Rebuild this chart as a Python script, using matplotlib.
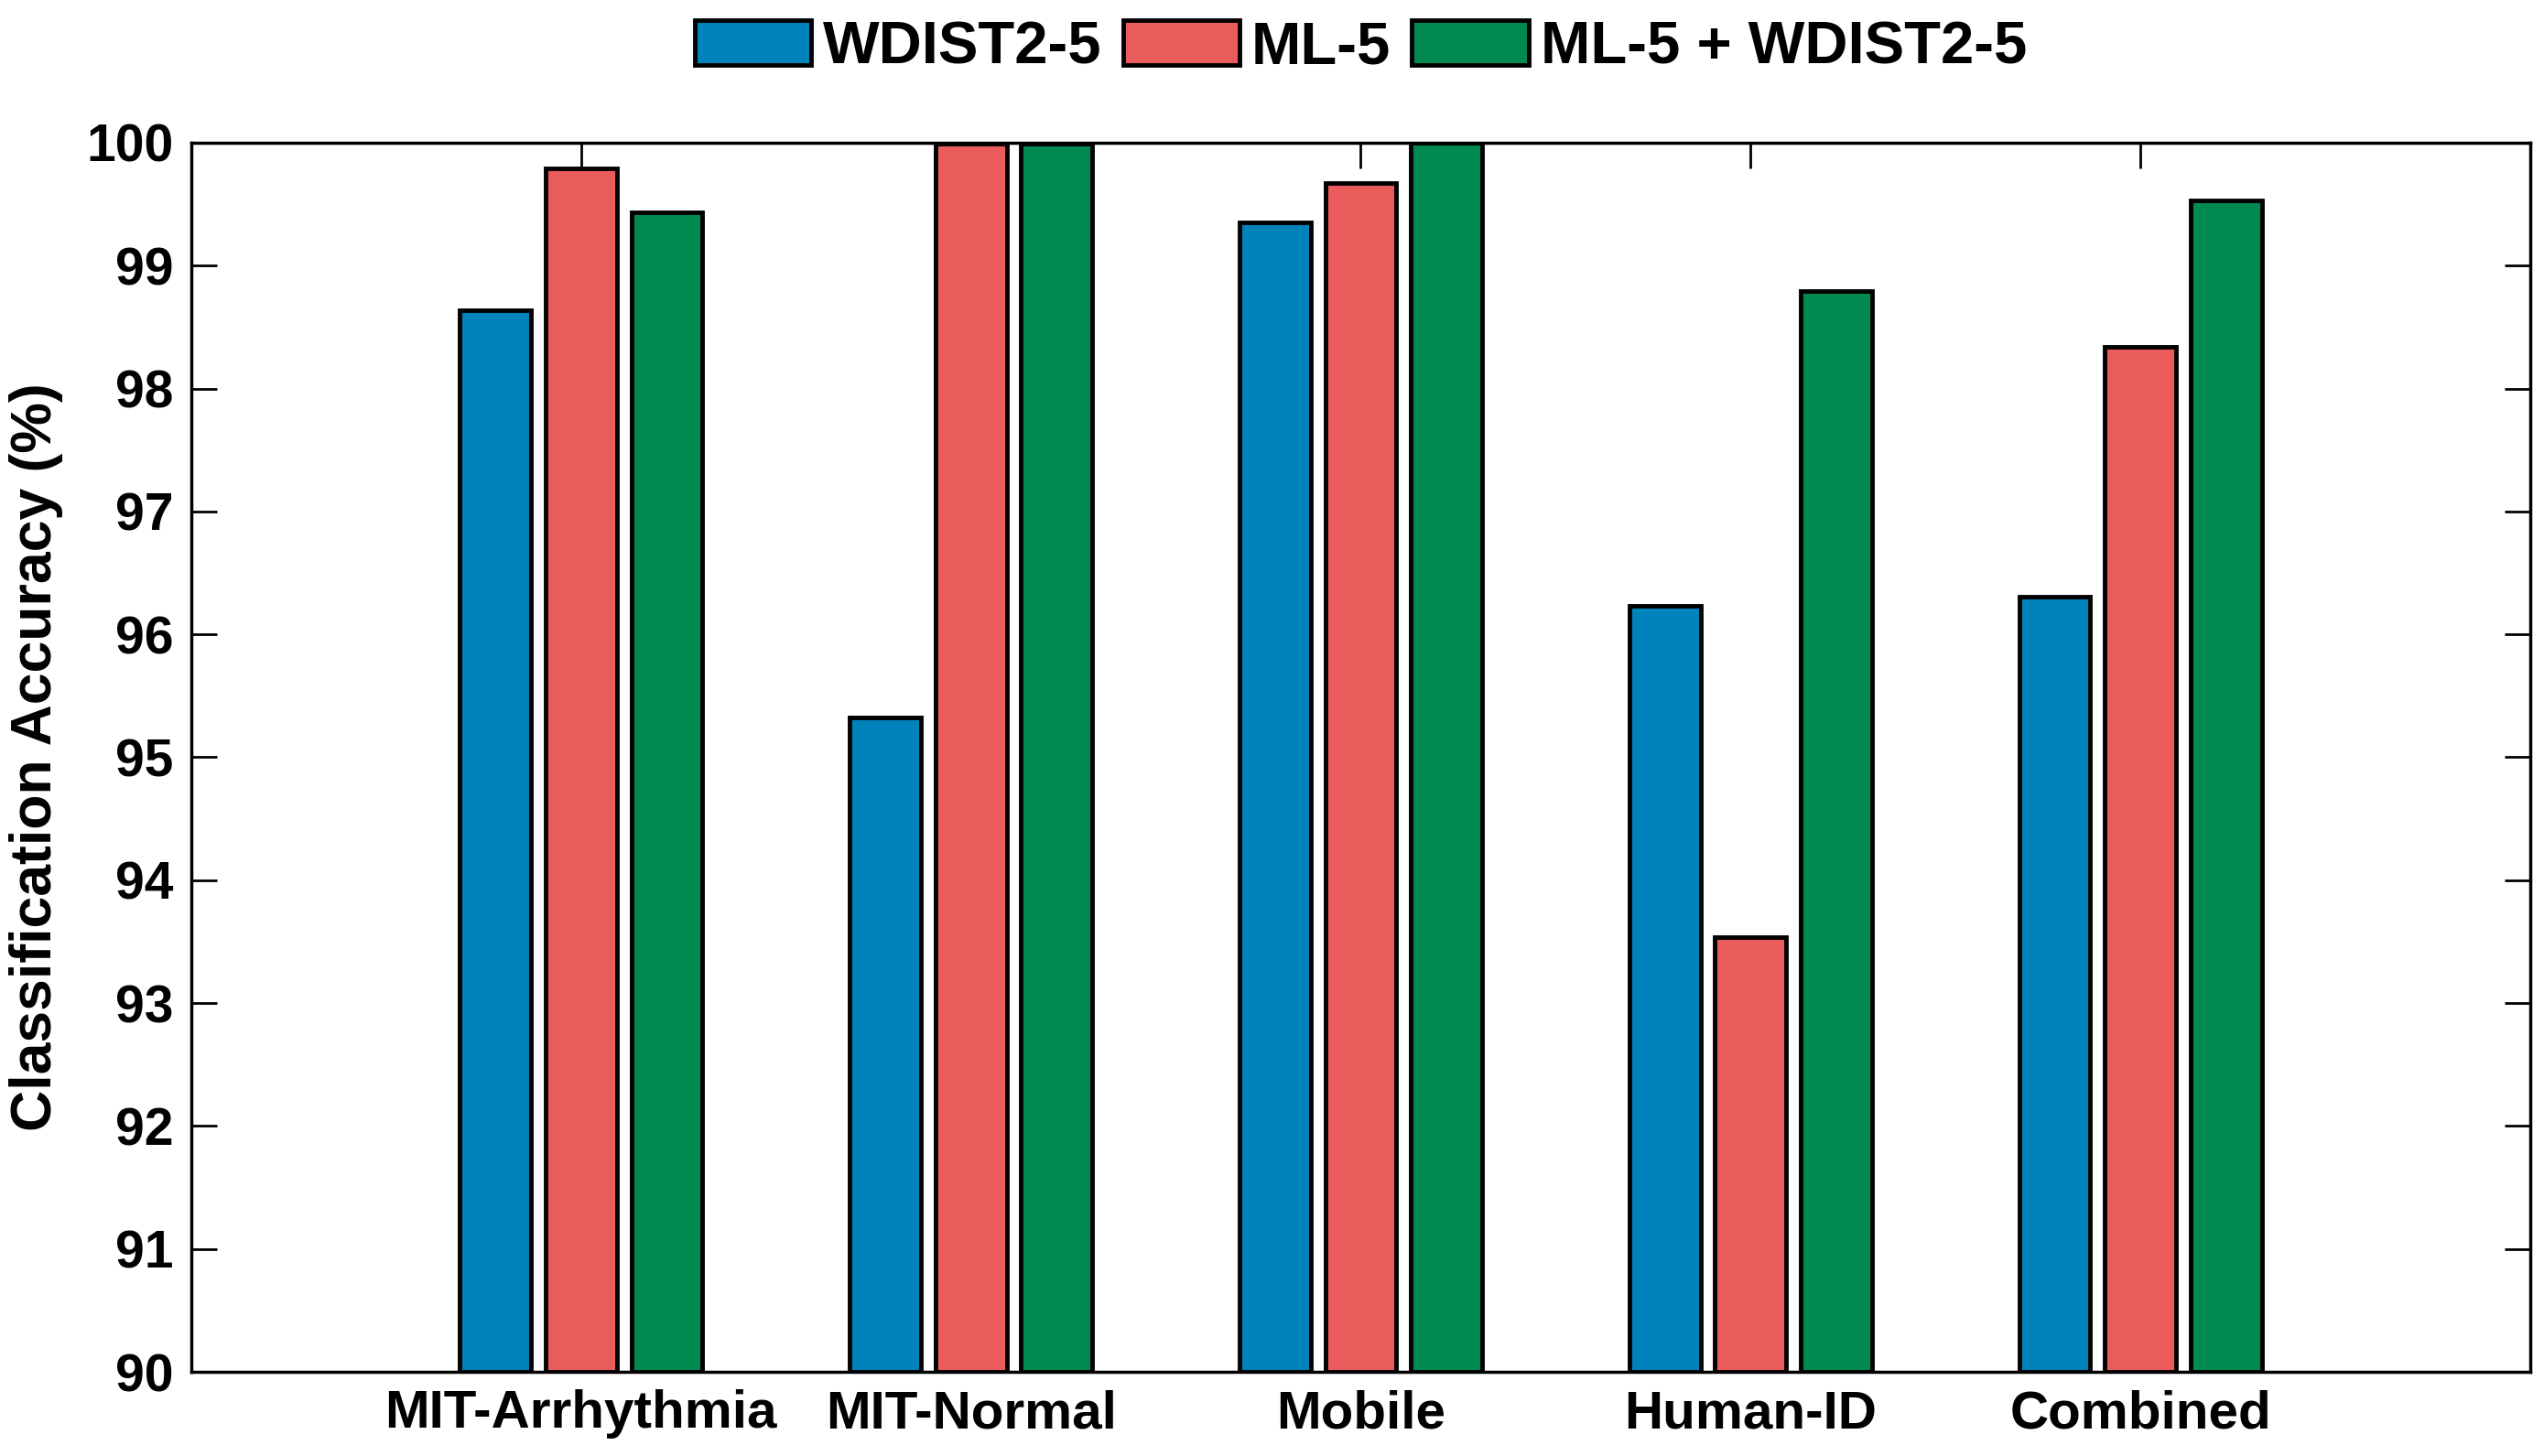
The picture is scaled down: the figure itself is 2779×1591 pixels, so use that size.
import numpy as np
import matplotlib
matplotlib.use('Agg')
import matplotlib.pyplot as plt

# dữ liệu
categories = ['MIT-Arrhythmia', 'MIT-Normal', 'Mobile', 'Human-ID', 'Combined']
series_names = ['WDIST2-5', 'ML-5', 'ML-5 + WDIST2-5']
wdist = [98.64, 95.32, 99.35, 96.23, 96.31]
ml = [99.79, 99.99, 99.67, 93.54, 98.34]
combo = [99.43, 99.99, 100.0, 98.79, 99.53]
colors = ['#0082BA', '#EA5B5C', '#008A52']
yticks = list(range(90, 101))

plt.rcParams['font.family'] = ['Liberation Sans', 'DejaVu Sans']
plt.rcParams['font.weight'] = 'bold'

fig = plt.figure(figsize=(27.79, 15.91), dpi=100)
ax = fig.add_axes([0.0752, 0.0578, 0.9194, 0.8442])

x = np.arange(1, len(categories) + 1)
width = 0.183
offset = 0.22
for i, (vals, name) in enumerate(zip([wdist, ml, combo], series_names)):
    ax.bar(x + (i - 1) * offset, np.array(vals) - 90, width, bottom=90,
           color=colors[i], edgecolor='black', linewidth=3.5, label=name, zorder=2)

ax.set_xlim(0, 6)
ax.set_ylim(90, 100)
ax.set_xticks(x)
ax.set_xticklabels(categories, fontsize=42, fontweight='bold')
ax.set_yticks(yticks)
ax.set_yticklabels([str(v) for v in yticks], fontsize=41, fontweight='bold')
ax.tick_params(direction='in', length=20, width=2, top=True, right=True, pad=14)
ax.set_ylabel('Classification Accuracy (%)', fontsize=45, fontweight='bold', labelpad=18)
for s in ax.spines.values():
    s.set_linewidth(2.5)

ax.legend(loc='lower center', bbox_to_anchor=(0.5, 1.011), ncol=3, frameon=False,
          handlelength=1.95, handleheight=0.78, handletextpad=0.2,
          columnspacing=0.35, prop={'weight': 'bold', 'size': 47})

fig.savefig('out.png', dpi=100)
